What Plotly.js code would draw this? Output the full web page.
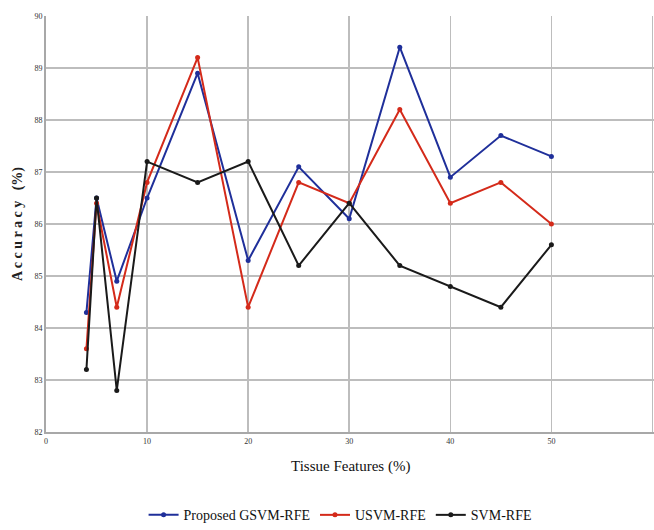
<!DOCTYPE html>
<html><head><meta charset="utf-8">
<script src="https://cdn.plot.ly/plotly-3.0.1.min.js"></script>
<style>body{margin:0;padding:0;background:#fff}#chart{width:654px;height:530px}</style>
</head><body><div id="chart"></div>
<script>
const features = [4, 5, 7, 10, 15, 20, 25, 30, 35, 40, 45, 50];
const gsvm = [84.3, 86.5, 84.9, 86.5, 88.9, 85.3, 87.1, 86.1, 89.4, 86.9, 87.7, 87.3];
const usvm = [83.6, 86.4, 84.4, 86.8, 89.2, 84.4, 86.8, 86.4, 88.2, 86.4, 86.8, 86.0];
const svm  = [83.2, 86.5, 82.8, 87.2, 86.8, 87.2, 85.2, 86.4, 85.2, 84.8, 84.4, 85.6];
const seriesNames = ["Proposed GSVM-RFE", "USVM-RFE", "SVM-RFE"];
const xTicks = [0, 10, 20, 30, 40, 50, 60];
const yTicks = [82, 83, 84, 85, 86, 87, 88, 89, 90];
const xTitle = "Tissue Features (%)";
const yTitle = "<b>A c c u r a c y &nbsp; (%)</b>";

const colors = ["#1f2f9a", "#d42a1a", "#1a1a1a"];
const data = [gsvm, usvm, svm].map((v, i) => ({
  x: features, y: v, name: seriesNames[i], type: "scatter", mode: "lines+markers",
  line: {color: colors[i], width: 2}, marker: {color: colors[i], size: 5}
}));

const layout = {
  width: 654, height: 530,
  margin: {l: 46, r: 0, t: 16, b: 98, autoexpand: false},
  paper_bgcolor: "#fff", plot_bgcolor: "#fff",
  showlegend: true,
  legend: {orientation: "h", x: 0.52, xanchor: "center", xref: "container", yref: "container", y: 0.058, yanchor: "top",
    font: {family: "Liberation Serif", size: 14, color: "#111"}, itemwidth: 30, tracegroupgap: 0},
  xaxis: {range: [0, 60.15], tickvals: xTicks, ticktext: xTicks.map(String), automargin: false,
    showgrid: true, gridcolor: "#bdbdbd", gridwidth: 1.5, zeroline: false,
    showline: true, linecolor: "#a8a8a8", linewidth: 2, ticks: "",
    tickfont: {family: "Liberation Serif", size: 8, color: "#333"}},
  yaxis: {range: [82, 90], tickvals: yTicks, ticktext: yTicks.map(String), automargin: false,
    showgrid: true, gridcolor: "#bdbdbd", gridwidth: 1.5, zeroline: false,
    showline: true, linecolor: "#a8a8a8", linewidth: 2, ticks: "",
    tickfont: {family: "Liberation Serif", size: 8, color: "#333"}},
  annotations: [
    {text: xTitle, xref: "paper", yref: "paper", x: 0.5, y: -0.082, xanchor: "center", yanchor: "middle",
      showarrow: false, font: {family: "Liberation Serif", size: 15, color: "#111"}},
    {text: yTitle, xref: "paper", yref: "paper", x: -0.046, y: 0.5, xanchor: "center", yanchor: "middle",
      textangle: -90, showarrow: false, font: {family: "Liberation Serif", size: 14, color: "#222"}}
  ]
};
Plotly.newPlot("chart", data, layout, {displayModeBar: false, staticPlot: true});
</script></body></html>
